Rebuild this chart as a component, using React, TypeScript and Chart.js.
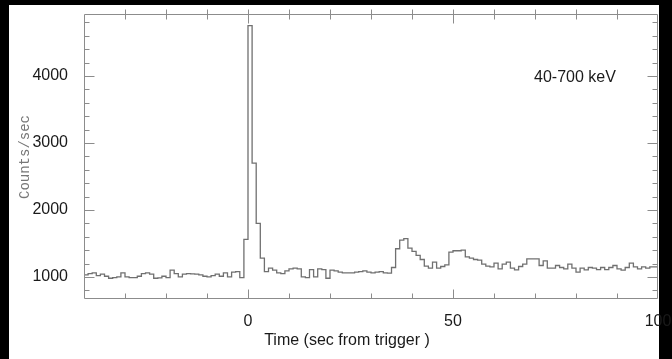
import React, { useEffect, useRef } from "react";
import { Chart, registerables } from "chart.js";

Chart.register(...registerables);

// Light curve: 1-s bins starting at -40 s
const binStart = -40;
const binWidth = 1;
const counts: number[] = [
  1020, 1030, 1050, 1060, 1020, 1040, 1010, 980, 990, 1000,
  1060, 1000, 990, 990, 1010, 1050, 1060, 1040, 980, 985,
  1010, 990, 1100, 1050, 1000, 1040, 1050, 1045, 1040, 1030,
  1010, 1000, 1020, 1040, 1010, 1060, 1000, 1070, 1080, 990,
  1560, 4750, 2700, 1800, 1280, 1080, 1130, 1100, 1060, 1050,
  1090, 1120, 1130, 1120, 1000, 990, 1110, 1000, 1120, 1110,
  980, 1100, 1090, 1070, 1060, 1060, 1060, 1070, 1080, 1090,
  1070, 1060, 1070, 1080, 1060, 1055, 1140, 1420, 1550, 1570,
  1430, 1380, 1320, 1260, 1160, 1130, 1220, 1130, 1155, 1180,
  1370, 1390, 1390, 1400, 1300, 1280, 1260, 1250, 1190, 1160,
  1150, 1205, 1120, 1190, 1220, 1130, 1105, 1155, 1190, 1270,
  1270, 1270, 1170, 1240, 1130, 1130, 1170, 1140, 1120, 1190,
  1130, 1070, 1130, 1105, 1140, 1130, 1110, 1140, 1110, 1140,
  1170, 1120, 1100, 1140, 1205, 1150, 1120, 1150, 1130, 1150,
];

const xMin = -40;
const xMax = 100;
const yMin = 670;
const yMax = 4925;
const xTickLabels = [0, 50, 100];
const yTickLabels = [1000, 2000, 3000, 4000];
const xMinorStep = 10;
const yMinorStep = 200;

const xTitle = "Time (sec from trigger )";
const yTitle = "Counts/sec";
const bandLabel = "40-700 keV";

const AXIS_COLOR = "#8c8c8c";
const LINE_COLOR = "#707070";
const TEXT_COLOR = "#1a1a1a";
const SANS = "Liberation Sans, Arial, Helvetica, sans-serif";

export default function App() {
  const ref = useRef<HTMLCanvasElement | null>(null);

  useEffect(() => {
    document.body.style.margin = "0";
    document.body.style.background = "#000";
    const canvas = ref.current;
    if (!canvas) return;

    const points = counts.map((c, i) => ({ x: binStart + i * binWidth, y: c }));
    points.push({ x: binStart + counts.length * binWidth, y: counts[counts.length - 1] });

    const framePlugin = {
      id: "frame",
      beforeDraw(chart: any) {
        const ctx = chart.ctx;
        ctx.save();
        ctx.fillStyle = "#000";
        ctx.fillRect(0, 0, chart.width, chart.height);
        ctx.fillStyle = "#fff";
        ctx.fillRect(9, 5, 650, chart.height - 5);
        ctx.restore();
      },
      afterDraw(chart: any) {
        const ctx = chart.ctx;
        const a = chart.chartArea;
        const xs = chart.scales.x;
        const ys = chart.scales.y;
        ctx.save();
        ctx.strokeStyle = AXIS_COLOR;
        ctx.lineWidth = 1;
        const L = Math.round(a.left) + 0.5;
        const R = Math.round(a.right) - 0.5;
        const T = Math.round(a.top) + 0.5;
        const B = Math.round(a.bottom) - 0.5;
        ctx.beginPath();
        ctx.rect(L, T, R - L, B - T);
        ctx.stroke();
        ctx.beginPath();
        for (let v = Math.ceil(xMin / xMinorStep) * xMinorStep; v <= xMax; v += xMinorStep) {
          if (v === xMin || v === xMax) continue;
          const major = v % 50 === 0;
          const px = Math.round(xs.getPixelForValue(v)) + 0.5;
          const len = major ? 9 : 5;
          ctx.moveTo(px, B);
          ctx.lineTo(px, B - len);
          ctx.moveTo(px, T - 5);
          ctx.lineTo(px, T + len);
        }
        for (let v = Math.ceil(yMin / yMinorStep) * yMinorStep; v <= yMax; v += yMinorStep) {
          const major = v % 1000 === 0;
          const py = Math.round(ys.getPixelForValue(v)) + 0.5;
          const len = major ? 10 : 5;
          ctx.moveTo(L, py);
          ctx.lineTo(L + len, py);
          ctx.moveTo(R, py);
          ctx.lineTo(R - len, py);
        }
        ctx.stroke();

        // texts
        ctx.fillStyle = TEXT_COLOR;
        ctx.font = `16px ${SANS}`;
        ctx.textAlign = "left";
        ctx.textBaseline = "middle";
        ctx.fillText(bandLabel, 534, 78);
        ctx.textAlign = "center";
        ctx.fillText(xTitle, 347, 341);

        ctx.save();
        ctx.translate(25, 157);
        ctx.rotate(-Math.PI / 2);
        ctx.fillStyle = "#777777";
        ctx.font = `14px "Liberation Mono", "DejaVu Sans Mono", monospace`;
        ctx.textAlign = "center";
        ctx.textBaseline = "middle";
        ctx.fillText(yTitle, 0, 0);
        ctx.restore();
        ctx.restore();
      },
    };

    const chart = new Chart(canvas, {
      type: "line",
      data: {
        datasets: [
          {
            data: points,
            stepped: "after",
            borderColor: LINE_COLOR,
            borderWidth: 1.3,
            pointRadius: 0,
            fill: false,
          },
        ],
      },
      options: {
        animation: false,
        responsive: false,
        devicePixelRatio: 1,
        layout: { padding: { left: 0, right: 14, top: 14, bottom: 0 } },
        plugins: { legend: { display: false }, tooltip: { enabled: false } },
        scales: {
          x: {
            type: "linear",
            min: xMin,
            max: xMax,
            grid: { display: false },
            border: { display: false },
            afterFit: (s: any) => {
              s.height = 60;
              s.paddingLeft = 0;
              s.paddingRight = 0;
            },
            afterBuildTicks: (s: any) => {
              s.ticks = xTickLabels.map((v) => ({ value: v }));
            },
            ticks: {
              color: TEXT_COLOR,
              font: { family: SANS, size: 16 },
              padding: 5,
              maxRotation: 0,
              autoSkip: false,
              callback: (v: any) => String(v),
            },
          },
          y: {
            type: "linear",
            min: yMin,
            max: yMax,
            grid: { display: false },
            border: { display: false },
            afterFit: (s: any) => {
              s.width = 84;
              s.paddingTop = 0;
              s.paddingBottom = 0;
            },
            afterBuildTicks: (s: any) => {
              s.ticks = yTickLabels.map((v) => ({ value: v }));
            },
            ticks: {
              color: TEXT_COLOR,
              font: { family: SANS, size: 16 },
              padding: 8,
              autoSkip: false,
              callback: (v: any) => String(v),
            },
          },
        },
      },
      plugins: [framePlugin],
    });

    return () => chart.destroy();
  }, []);

  return (
    <div style={{ position: "fixed", left: 0, top: 0, width: 672, height: 359 }}>
      <canvas ref={ref} width={672} height={359} style={{ display: "block" }} />
    </div>
  );
}
